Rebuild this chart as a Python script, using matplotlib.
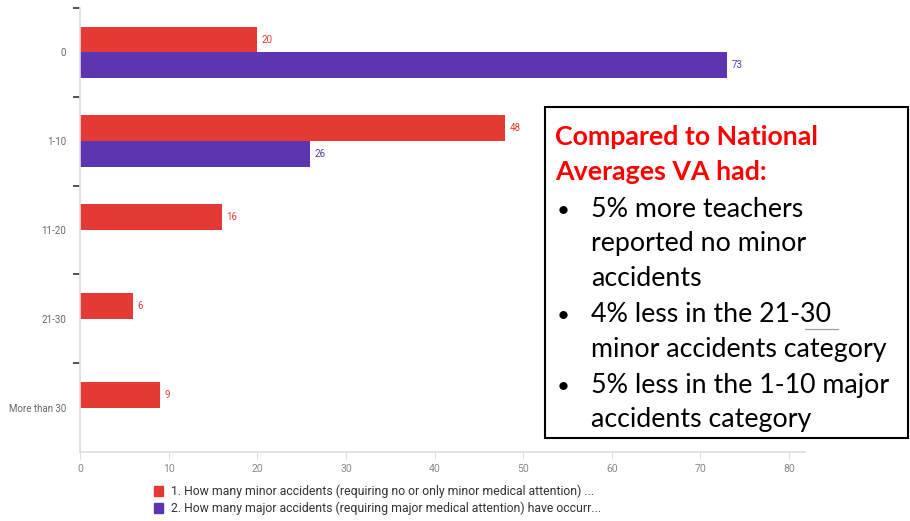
import matplotlib
matplotlib.use("Agg")
import matplotlib.pyplot as plt
from matplotlib.patches import Rectangle
import numpy as np

# accident counts per category
categories = ["0", "1-10", "11-20", "21-30", "More than 30"]
minor = [20, 48, 16, 6, 9]
major = [73, 26, None, None, None]
legend_labels = [
    "1. How many minor accidents (requiring no or only minor medical attention) ...",
    "2. How many major accidents (requiring major medical attention) have occurr...",
]

heading = ["Compared to National", "Averages VA had:"]
bullets = [
    ["5% more teachers", "reported no minor", "accidents"],
    ["4% less in the 21-30", "minor accidents category"],
    ["5% less in the 1-10 major", "accidents category"],
]

RED = "#E53935"
PURPLE = "#5E35B1"
W, H = 910, 521

plt.rcParams['font.family'] = ['Roboto', 'DejaVu Sans']

fig = plt.figure(figsize=(W / 100, H / 100), dpi=100)
ax = fig.add_axes([80 / W, 1 - 452 / H, (805 - 80) / W, (452 - 8) / H])

pos = np.arange(len(categories))
bh = 0.29
for i, v in enumerate(minor):
    ax.barh(pos[i] - bh / 2, v, height=bh, color=RED)
    ax.text(v + 0.5, pos[i] - bh / 2, str(v), color=RED, fontsize=7, va='center', ha='left')
for i, v in enumerate(major):
    if v is None:
        continue
    ax.barh(pos[i] + bh / 2, v, height=bh, color=PURPLE)
    ax.text(v + 0.5, pos[i] + bh / 2, str(v), color=PURPLE, fontsize=7, va='center', ha='left')

ax.set_ylim(len(categories) - 0.5, -0.5)
ax.set_xlim(0, 81.8)
ax.set_xticks(range(0, 81, 10))
ax.set_yticks(np.arange(-0.5, len(categories) - 0.5, 1))
ax.set_yticklabels([])
ax.set_yticks(pos, minor=True)
ax.set_yticklabels(categories, minor=True)
ax.tick_params(axis='y', which='major', length=5, width=1.2, color='#333333')
ax.tick_params(axis='y', which='minor', length=0, pad=10, labelsize=7, labelcolor='#666666')
ax.tick_params(axis='x', length=5, color='#dddddd', labelsize=7.5, labelcolor='#888888', pad=4)
for s in ['top', 'right']:
    ax.spines[s].set_visible(False)
for s in ['left', 'bottom']:
    ax.spines[s].set_color('#dddddd')
    ax.spines[s].set_linewidth(1.2)

# legend drawn by hand below the axis
for k, (lab, c) in enumerate(zip(legend_labels, [RED, PURPLE])):
    y = 1 - (491 + k * 17) / H
    fig.patches.append(Rectangle((154 / W, y - 5 / H), 9 / W, 10 / H, color=c,
                                 transform=fig.transFigure))
    fig.text(171 / W, y, lab, fontsize=8.8, color='#333333', va='center', ha='left')

# annotation box
fig.patches.append(Rectangle((545 / W, 1 - 438 / H), 363 / W, 331 / H, facecolor='white',
                             edgecolor='black', lw=1.5, transform=fig.transFigure, zorder=5))
tf = ['Lato', 'DejaVu Sans']
fs = 19.3
baselines = [145, 180]
for line, b in zip(heading, baselines):
    fig.text(555 / W, 1 - b / H, line, fontsize=fs, fontweight='bold', color='#FF0000',
             family=tf, va='baseline', ha='left', zorder=6)
b = 217
for group in bullets:
    fig.text(563 / W, 1 - b / H, "•", fontsize=16, family=tf, va='baseline', ha='center', zorder=6)
    for line in group:
        fig.text(591 / W, 1 - b / H, line, fontsize=fs, family=tf, va='baseline', ha='left', zorder=6)
        b += 34.5
    b += 1.5
fig.lines.append(plt.Line2D([805 / W, 838 / W], [1 - 329 / H, 1 - 329 / H], color='#999999',
                            lw=0.8, transform=fig.transFigure, zorder=6))

fig.savefig("out.png", dpi=100)
